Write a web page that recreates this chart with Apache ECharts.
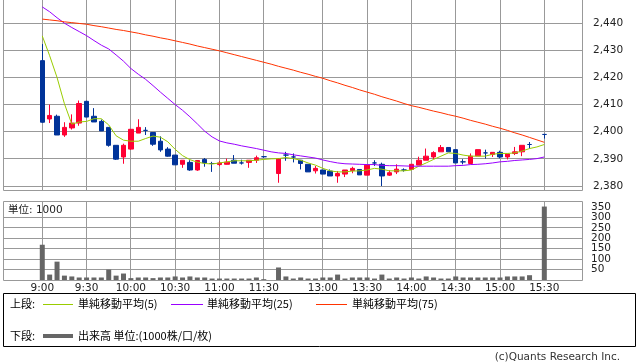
<!DOCTYPE html>
<html><head><meta charset="utf-8">
<script src="https://cdn.jsdelivr.net/npm/echarts@6/dist/echarts.min.js"></script>
<style>html,body{margin:0;padding:0;background:#fff}#c{width:638px;height:362px}</style>
</head><body><div id="c"></div>
<script>
// ---- data ----
const times = ['9:00','9:05','9:10','9:15','9:20','9:25','9:30','9:35','9:40','9:45','9:50','9:55','10:00','10:05','10:10','10:15','10:20','10:25','10:30','10:35','10:40','10:45','10:50','10:55','11:00','11:05','11:10','11:15','11:20','11:25','11:30','12:25','12:30','12:35','12:40','12:45','12:50','12:55','13:00','13:05','13:10','13:15','13:20','13:25','13:30','13:35','13:40','13:45','13:50','13:55','14:00','14:05','14:10','14:15','14:20','14:25','14:30','14:35','14:40','14:45','14:50','14:55','15:00','15:05','15:10','15:15','15:20','15:25','15:30'];
const opens = [2426.2,2404.7,2405.7,2398.8,2401.4,2403.2,2411.2,2405.7,2403.8,2401.6,2395.0,2390.7,2393.6,2399.5,2400.5,2399.7,2396.5,2393.6,2391.4,2388.0,2388.7,2385.9,2389.8,2388.3,2387.9,2388.0,2389.5,2388.5,2388.7,2389.5,2390.8,null,2384.6,2391.4,2390.7,2389.5,2388.0,2385.6,2385.9,2385.5,2383.7,2384.4,2385.7,2386.1,2384.0,2388.5,2388.0,2384.0,2385.2,2385.9,2386.1,2387.7,2389.5,2390.7,2392.6,2394.2,2393.4,2388.9,2388.3,2391.1,2392.2,2391.6,2392.4,2390.7,2392.0,2392.6,2395.3,null,2399.0];
const closes = [2403.5,2406.0,2398.8,2401.6,2403.2,2410.4,2405.4,2403.6,2400.3,2395.0,2389.9,2395.0,2400.9,2401.6,2400.5,2395.4,2393.3,2391.0,2387.8,2389.5,2385.9,2389.4,2388.5,2388.3,2388.5,2388.8,2388.4,2388.5,2389.5,2390.4,2390.8,null,2390.1,2391.4,2390.7,2388.3,2385.2,2386.5,2384.4,2383.7,2384.6,2385.9,2386.5,2384.1,2387.7,2388.5,2383.7,2384.9,2386.2,2385.9,2388.0,2389.5,2391.0,2392.3,2394.2,2392.6,2388.5,2388.9,2391.0,2393.4,2392.2,2392.4,2390.7,2391.8,2392.6,2395.0,2395.3,null,2399.0];
const lows = [2403.3,2403.2,2398.8,2398.1,2400.8,2402.2,2405.4,2403.6,2400.3,2394.5,2389.6,2388.2,2393.3,2399.5,2398.8,2394.8,2392.6,2390.8,2387.8,2386.7,2385.6,2385.6,2387.1,2385.2,2387.3,2387.9,2388.4,2387.9,2386.7,2388.5,2390.4,null,2381.2,2389.3,2388.7,2386.1,2385.2,2384.6,2384.4,2383.7,2381.2,2383.3,2384.7,2384.1,2384.0,2387.4,2380.0,2383.7,2384.4,2385.3,2386.1,2387.7,2389.5,2389.9,2392.6,2392.6,2388.5,2388.0,2388.0,2391.1,2390.1,2390.7,2390.2,2389.8,2391.4,2391.0,2393.8,null,2397.5];
const highs = [2432.3,2410.0,2406.3,2403.5,2406.4,2411.5,2411.4,2408.7,2404.5,2401.6,2395.0,2395.6,2401.0,2404.6,2401.7,2399.7,2398.3,2394.3,2391.4,2389.5,2389.5,2389.4,2390.3,2388.9,2389.2,2390.1,2391.4,2389.7,2389.5,2391.2,2391.0,null,2390.1,2392.6,2392.0,2389.5,2388.0,2387.4,2385.9,2386.1,2385.5,2385.9,2387.1,2386.1,2387.7,2389.5,2388.6,2385.8,2388.0,2386.5,2388.0,2390.8,2393.8,2392.8,2395.1,2394.2,2393.4,2389.9,2392.0,2393.4,2393.4,2392.4,2393.0,2391.8,2394.4,2395.0,2396.2,null,2399.2];
const ma5 = [2435.3,2428,2420,2410.3,2402.8,2403.6,2403.8,2404.8,2404.8,2402.5,2398.5,2396.9,2396.5,2396.5,2397.5,2398.4,2398,2396.3,2393.5,2391.2,2389.7,2388.8,2388.3,2388.1,2388.5,2388.9,2389.3,2389.3,2389.3,2389.5,2389.8,2390,2390.1,2390.5,2390.1,2389.5,2388.5,2387.7,2386.5,2385.6,2385.2,2385.2,2385.5,2385.6,2385.9,2386.5,2386.2,2385.6,2385.6,2385.6,2385.9,2387.3,2388.5,2389.8,2391,2392.2,2392,2391.4,2391,2391,2391,2391.7,2392,2392,2392.2,2392.9,2393.8,2394.4,2395.3];
const ma25 = [2446,2444.2,2442,2440,2438.4,2436.9,2435.4,2433.6,2431.9,2430.5,2428.3,2426,2423.3,2421.2,2419.3,2417,2414.6,2412.3,2410,2407.9,2405.5,2402.9,2400.2,2398.1,2396.6,2395.9,2395.4,2394.8,2394.3,2393.8,2393.2,2392.6,2392.2,2392,2391.5,2391.1,2390.7,2390.3,2389.6,2389,2388.5,2388.2,2388.1,2388,2387.9,2387.9,2387.6,2387.5,2387.5,2387.4,2387.3,2387.3,2387.3,2387.3,2387.3,2387.3,2387.5,2387.6,2387.9,2388,2388.2,2388.5,2388.9,2389.1,2389.4,2389.6,2389.8,2390.1,2390.7];
const ma75 = [2441.5,2441.2,2440.9,2440.5,2440.2,2439.9,2439.6,2439.1,2438.7,2438.2,2437.7,2437.3,2436.8,2436.3,2435.7,2435.2,2434.6,2434.1,2433.5,2432.9,2432.3,2431.6,2431,2430.4,2429.8,2429.1,2428.4,2427.7,2427,2426.3,2425.6,2424.9,2424.1,2423.4,2422.7,2421.9,2421.2,2420.4,2419.7,2418.8,2418,2417.1,2416.3,2415.4,2414.6,2413.8,2412.9,2412.1,2411.3,2410.4,2409.6,2409,2408.3,2407.6,2407,2406.3,2405.7,2405,2404.2,2403.5,2402.8,2402,2401.3,2400.5,2399.6,2398.8,2397.9,2397,2396.1];
const volumes = [169,26,88,21,17,12,12,12,12,50,21,31,9,12,12,9,12,12,17,12,17,12,12,7,7,7,7,7,7,12,4,null,60,17,7,12,7,7,12,12,26,7,12,12,12,7,26,7,12,7,12,7,17,12,7,7,17,12,12,12,12,12,12,17,17,17,23,null,352];
const timeLabels = ['9:00','9:30','10:00','10:30','11:00','11:30','13:00','13:30','14:00','14:30','15:00','15:30'];
const priceTicks = [2380,2390,2400,2410,2420,2430,2440];
const volGridTicks = [50,100,150,200,250,300];
const volLabelTicks = [50,100,150,200,250,300,350];
const maNames = ['単純移動平均(5)','単純移動平均(25)','単純移動平均(75)'];
const volName = '出来高 単位:(1000株/口/枚)';

// ---- build ----
const UP = '#ff0033', DOWN = '#003399';
const tickIdx = timeLabels.map(t => times.indexOf(t));
const candleData = [];
const volData = [];
times.forEach((t, i) => {
  if (opens[i] != null) {
    const item = { value: [i, opens[i], closes[i], lows[i], highs[i]] };
    if (opens[i] === closes[i]) item.itemStyle = { color: DOWN, color0: DOWN, borderColor: DOWN, borderColor0: DOWN };
    candleData.push(item);
  }
  if (volumes[i] != null) volData.push([i, volumes[i]]);
});
const lineData = arr => arr.map((v, i) => [i, v]);
const X_MIN = -5.32, X_MAX = 73.24;
const FONT = '"DejaVu Sans", "Noto Sans CJK JP", sans-serif';
const JFONT = '"Noto Sans CJK JP", sans-serif';
const GRID = '#999999';
const lblStyle = { color: '#222', fontSize: 10.5, fontFamily: FONT };
const crisp = v => Math.round(v - 0.5) + 0.5;
function gridSeries(axisIdx, xs, ys, refX, refY) {
  const data = xs.map(x => [x, refY, 0]).concat(ys.map(y => [refX, y, 1]));
  return {
    type: 'custom', xAxisIndex: axisIdx, yAxisIndex: axisIdx, data, z: 1, silent: true, clip: false,
    renderItem: (params, api) => {
      const cs = params.coordSys;
      const p = api.coord([api.value(0), api.value(1)]);
      const shape = api.value(2) === 0
        ? { x1: crisp(p[0]), y1: cs.y, x2: crisp(p[0]), y2: cs.y + cs.height }
        : { x1: cs.x, y1: crisp(p[1]), x2: cs.x + cs.width, y2: crisp(p[1]) };
      return { type: 'line', shape, style: { stroke: GRID, lineWidth: 1, fill: null } };
    }
  };
}

const chart = echarts.init(document.getElementById('c'), null, { renderer: 'canvas' });
chart.setOption({
  animation: false,
  grid: [
    { left: 3, right: 55, top: -1, height: 191, show: false },
    { left: 3, right: 55, top: 201, height: 79, show: false }
  ],
  xAxis: [
    { type: 'value', gridIndex: 0, min: X_MIN, max: X_MAX, axisLine: { show: false },
      axisTick: { show: false }, axisLabel: { show: false }, splitLine: { show: false } },
    { type: 'value', gridIndex: 1, min: X_MIN, max: X_MAX, axisLine: { show: false },
      axisTick: { show: false },
      axisLabel: Object.assign({ show: true, customValues: tickIdx, margin: 3, formatter: v => times[Math.round(v)] }, lblStyle),
      splitLine: { show: false } }
  ],
  yAxis: [
    { type: 'value', gridIndex: 0, position: 'right', min: 2378.53, max: 2448.54, axisLine: { show: false },
      axisTick: { show: false },
      axisLabel: Object.assign({ customValues: priceTicks, margin: 10, formatter: v => String(v).replace(/\B(?=(\d{3})+$)/, ',') }, lblStyle),
      splitLine: { show: false } },
    { type: 'value', gridIndex: 1, position: 'right', min: 0, max: 378.6, axisLine: { show: false },
      axisTick: { show: false },
      axisLabel: Object.assign({ customValues: volLabelTicks, margin: 8 }, lblStyle),
      splitLine: { show: false } }
  ],
  series: [
    gridSeries(0, tickIdx, priceTicks, 0, 2400),
    gridSeries(1, tickIdx, volGridTicks, 0, 100),
    { type: 'candlestick', xAxisIndex: 0, yAxisIndex: 0, barWidth: 5, data: candleData, z: 3,
      itemStyle: { color: UP, color0: DOWN, borderColor: UP, borderColor0: DOWN, borderColorDoji: DOWN, borderWidth: 1 } },
    { type: 'line', name: maNames[0], xAxisIndex: 0, yAxisIndex: 0, data: lineData(ma5), symbol: 'none', lineStyle: { color: '#99cc00', width: 1 }, z: 5 },
    { type: 'line', name: maNames[1], xAxisIndex: 0, yAxisIndex: 0, data: lineData(ma25), symbol: 'none', lineStyle: { color: '#9900ff', width: 1 }, z: 5 },
    { type: 'line', name: maNames[2], xAxisIndex: 0, yAxisIndex: 0, data: lineData(ma75), symbol: 'none', lineStyle: { color: '#ff3300', width: 1 }, z: 5 },
    { type: 'bar', name: volName, xAxisIndex: 1, yAxisIndex: 1, data: volData, barWidth: 5, z: 3, itemStyle: { color: '#666666' } }
  ],
  graphic: [
    { type: 'rect', z: 1, shape: { x: 3.5, y: -0.5, width: 579, height: 191 }, style: { fill: null, stroke: GRID, lineWidth: 1 } },
    { type: 'rect', z: 1, shape: { x: 3.5, y: 201.5, width: 579, height: 79 }, style: { fill: null, stroke: GRID, lineWidth: 1 } },
    { type: 'text', x: 8, y: 210, style: { text: '単位: 1000', font: '10.5px ' + FONT, fill: '#222', verticalAlign: 'middle' } },
    { type: 'rect', shape: { x: 3.5, y: 293.5, width: 632, height: 53 }, style: { fill: null, stroke: '#000', lineWidth: 1 } },
    { type: 'text', x: 10, y: 304, style: { text: '上段:', font: '11px ' + JFONT, fill: '#000', verticalAlign: 'middle' } },
    { type: 'line', shape: { x1: 43, y1: 304.5, x2: 73, y2: 304.5 }, style: { stroke: '#99cc00', lineWidth: 1 } },
    { type: 'text', x: 78, y: 304, style: { text: maNames[0], font: '11px ' + JFONT, fill: '#000', verticalAlign: 'middle' } },
    { type: 'line', shape: { x1: 171, y1: 304.5, x2: 203, y2: 304.5 }, style: { stroke: '#9900ff', lineWidth: 1 } },
    { type: 'text', x: 207, y: 304, style: { text: maNames[1], font: '11px ' + JFONT, fill: '#000', verticalAlign: 'middle' } },
    { type: 'line', shape: { x1: 316, y1: 304.5, x2: 347, y2: 304.5 }, style: { stroke: '#ff3300', lineWidth: 1 } },
    { type: 'text', x: 352, y: 304, style: { text: maNames[2], font: '11px ' + JFONT, fill: '#000', verticalAlign: 'middle' } },
    { type: 'text', x: 10, y: 336, style: { text: '下段:', font: '11px ' + JFONT, fill: '#000', verticalAlign: 'middle' } },
    { type: 'line', shape: { x1: 43, y1: 336, x2: 73, y2: 336 }, style: { stroke: '#666666', lineWidth: 4 } },
    { type: 'text', x: 78, y: 336, style: { text: volName, font: '11px ' + JFONT, fill: '#000', verticalAlign: 'middle' } },
    { type: 'text', x: 620, y: 357, style: { text: '(c)Quants Research Inc.', font: '10.5px ' + FONT, fill: '#333', align: 'right', verticalAlign: 'middle' } }
  ]
});
</script></body></html>
